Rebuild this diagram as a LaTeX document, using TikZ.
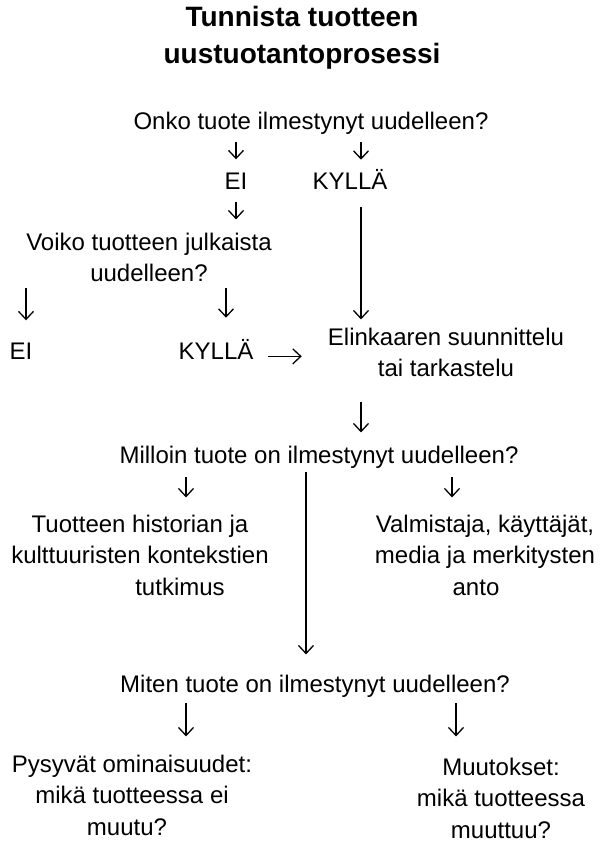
\documentclass[tikz,border=0pt]{standalone}
\usepackage{fontspec}
\setmainfont{Liberation Sans}
\usetikzlibrary{arrows.meta}

\tikzset{
  txt/.style={inner sep=0pt, anchor=base, align=center, font=\fontsize{24}{31.5}\selectfont},
  ttl/.style={inner sep=0pt, anchor=base, align=center, font=\fontsize{28}{37}\selectfont\bfseries},
  arr/.style={line width=1.3pt, -{Straight Barb[length=8pt,width=15pt]}},
}

\begin{document}
\begin{tikzpicture}[x=1pt,y=-1pt]
\useasboundingbox (0,0) rectangle (603,844);

% title (base = last line)
\node[ttl] (title) at (302,63) {Tunnista tuotteen\\uustuotantoprosessi};

% first question
\node[txt] (onko) at (311,129) {Onko tuote ilmestynyt uudelleen?};
\node[txt] (ei1) at (236,189) {EI};
\node[txt] (kyl1) at (350,189) {KYLLÄ};
\node[txt] (voiko) at (149,281.5) {Voiko tuotteen julkaista\\uudelleen?};
\node[txt] (ei2) at (21,359) {EI};
\node[txt] (kyl2) at (216,359) {KYLLÄ};
\node[txt] (elin) at (446,376.5) {Elinkaaren suunnittelu\\tai tarkastelu};

% when
\node[txt] (milloin) at (319,463) {Milloin tuote on ilmestynyt uudelleen?};
\node[txt] (hist) at (140,595) {Tuotteen historian ja\\kulttuuristen kontekstien\\\hspace*{80pt}tutkimus};
\node[txt] (valm) at (485,595) {Valmistaja, käyttäjät,\\media ja merkitysten\\\hspace*{-18pt}anto};

% how
\node[txt] (miten) at (315,692) {Miten tuote on ilmestynyt uudelleen?};
\node[txt] (pys) at (132,835) {Pysyvät ominaisuudet:\\mikä tuotteessa ei\\\hspace*{-10pt}muutu?};
\node[txt] (muut) at (501,838) {Muutokset:\\mikä tuotteessa\\muuttuu?};

% arrows
\draw[arr, shorten <=8pt, shorten >=13pt] (onko.south -| ei1) -- (ei1.north);
\draw[arr, shorten <=8pt, shorten >=9pt] ([xshift=11pt]kyl1.north |- onko.south) -- ([xshift=11pt]kyl1.north);
\draw[arr, shorten <=13pt, shorten >=13pt] (ei1.south) -- (ei1.south |- voiko.north);
\draw[arr, shorten <=18pt, shorten >=8pt] ([xshift=11pt]kyl1.south) -- ([xshift=11pt]kyl1.south |- elin.north);
\draw[arr, shorten <=6pt, shorten >=22pt] ([xshift=5pt]ei2.north |- voiko.south) -- ([xshift=5pt]ei2.north);
\draw[arr, shorten <=6pt, shorten >=21pt] ([xshift=10pt]kyl2.north |- voiko.south) -- ([xshift=10pt]kyl2.north);
\draw[arr, shorten <=14pt, shorten >=26pt] (kyl2.mid east) -- (kyl2.mid east -| elin.west);
\draw[arr, shorten <=25pt, shorten >=13pt] ([xshift=11pt]kyl1.south |- elin.south) -- ([xshift=11pt]kyl1.south |- milloin.north);
\draw[arr, shorten <=9pt, shorten >=17pt] ([xshift=46pt]hist.north |- milloin.south) -- ([xshift=46pt]hist.north);
\draw[arr, shorten <=9pt, shorten >=17pt] ([xshift=-33pt]valm.north |- milloin.south) -- ([xshift=-33pt]valm.north);
\draw[arr, shorten <=4pt, shorten >=20pt] ([xshift=-9pt]miten.north |- milloin.south) -- ([xshift=-9pt]miten.north);
\draw[arr, shorten <=6pt, shorten >=18pt] ([xshift=54pt]pys.north |- miten.south) -- ([xshift=54pt]pys.north);
\draw[arr, shorten <=6pt, shorten >=21pt] ([xshift=-45pt]muut.north |- miten.south) -- ([xshift=-45pt]muut.north);
\end{tikzpicture}
\end{document}
